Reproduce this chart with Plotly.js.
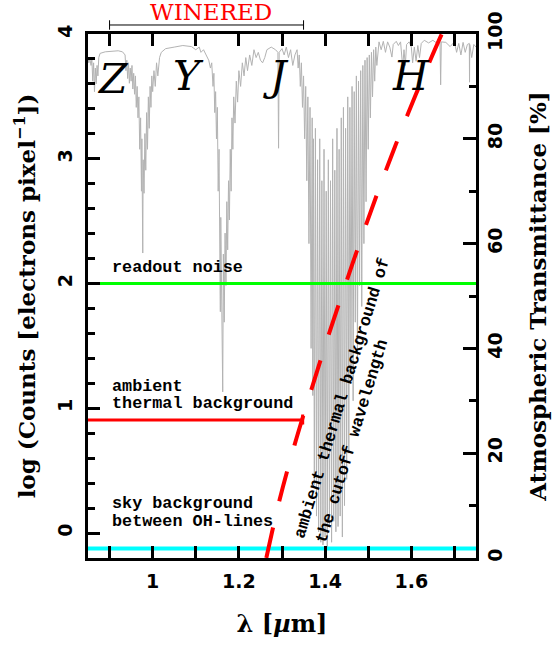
<!DOCTYPE html>
<html><head><meta charset="utf-8">
<script src="https://cdn.plot.ly/plotly-3.0.1.min.js"></script>
<style>html,body{margin:0;padding:0;background:#fff}#chart{width:555px;height:648px}</style>
</head><body><div id="chart"></div>
<script>
// Atmospheric transmittance [%] vs wavelength [um]
const specZ = [[0.850,95.4],[0.852,94.5],[0.854,95.5],[0.857,94.0],[0.859,95.2],[0.861,91.0],[0.863,94.5],[0.865,89.0],[0.867,93.5],[0.869,90.5],[0.871,94.0],[0.873,92.0],[0.875,95.5],[0.878,96.3],[0.890,96.6],[0.905,96.7],[0.920,96.8],[0.930,96.6],[0.936,96.0],[0.938,93.0],[0.940,95.0],[0.942,91.5],[0.944,94.5],[0.946,90.6],[0.948,93.5],[0.950,91.0],[0.952,94.0],[0.954,89.5],[0.956,92.5],[0.958,88.5],[0.960,92.0],[0.962,86.0],[0.964,90.0],[0.966,84.0],[0.968,88.0],[0.970,78.0],[0.972,84.0],[0.974,70.0],[0.975,80.0],[0.977,58.2],[0.978,76.0],[0.980,69.6],[0.982,81.0],[0.984,74.0],[0.986,85.0],[0.988,78.0],[0.990,88.0],[0.992,82.0],[0.994,90.0],[0.996,86.0],[0.998,92.0],[1.000,89.0],[1.003,93.0],[1.006,90.0],[1.009,94.5],[1.012,92.0],[1.016,95.5],[1.020,96.5],[1.030,97.2]];
const specY = [[1.050,97.5],[1.070,97.8],[1.090,97.6],[1.100,97.0],[1.108,97.5],[1.112,96.5],[1.118,97.0],[1.124,96.0],[1.130,95.0],[1.134,93.5],[1.137,94.5],[1.140,90.0],[1.142,92.5],[1.144,85.0],[1.146,89.0],[1.148,80.0],[1.150,86.0],[1.152,70.0],[1.154,78.0],[1.156,55.0],[1.157,47.0],[1.158,65.0],[1.160,50.0],[1.1625,31.7],[1.164,58.0],[1.166,45.0],[1.168,62.0],[1.170,52.0],[1.172,68.0],[1.174,58.8],[1.176,72.0],[1.178,64.5],[1.180,78.0],[1.182,70.0],[1.184,84.0],[1.186,78.0],[1.188,88.0],[1.191,83.0],[1.194,91.0],[1.197,87.0],[1.200,93.0],[1.204,90.0],[1.208,94.5],[1.212,92.0],[1.216,95.5],[1.220,93.0],[1.225,96.0],[1.230,94.0],[1.235,97.0],[1.240,95.5],[1.245,96.5],[1.250,95.0],[1.255,94.5],[1.260,95.5]];
const specJ = [[1.265,97.0],[1.275,97.5],[1.285,97.0],[1.2905,96.5],[1.292,78.2],[1.2935,96.5],[1.300,97.2],[1.305,96.0],[1.310,97.5],[1.315,95.5],[1.320,97.0],[1.325,94.0],[1.330,96.0]];
const specWater = [[1.3350,97.0],[1.3375,93.5],[1.3400,96.0],[1.3425,90.0],[1.3450,94.5],[1.3475,86.0],[1.3500,92.0],[1.3525,80.0],[1.3550,90.0],[1.3575,72.0],[1.3600,88.0],[1.3625,60.0],[1.3650,86.0],[1.3675,40.0],[1.3700,84.0],[1.3715,31.0],[1.3730,80.0],[1.3750,14.0],[1.3775,82.0],[1.3800,8.0],[1.3825,76.0],[1.3850,5.0],[1.3875,80.0],[1.3900,3.0],[1.3925,72.0],[1.3950,2.5],[1.3975,78.0],[1.4000,4.0],[1.4025,70.0],[1.4050,2.0],[1.4075,76.0],[1.4100,6.0],[1.4125,72.0],[1.4150,3.0],[1.4175,80.0],[1.4200,7.0],[1.4225,74.0],[1.4250,5.0],[1.4275,82.0],[1.4300,6.0],[1.4325,78.0],[1.4350,8.0],[1.4375,84.0],[1.4400,4.0],[1.4425,86.0],[1.4450,10.0],[1.4475,82.0],[1.4500,15.0],[1.4525,88.0],[1.4550,20.0],[1.4575,86.0],[1.4600,35.0],[1.4625,90.0],[1.4650,30.0],[1.4675,89.0],[1.4700,45.0],[1.4725,92.0],[1.4750,38.0],[1.4775,91.0],[1.4800,52.0],[1.4825,93.0],[1.4850,48.0],[1.4875,94.0],[1.4900,60.0],[1.4925,95.0],[1.4950,68.0],[1.4975,95.5],[1.5000,78.0],[1.5025,96.0],[1.5050,84.0],[1.5075,96.5],[1.5100,88.0],[1.5125,97.0],[1.5150,91.0],[1.5175,97.5],[1.5200,94.0]];
const specH = [[1.525,98.5],[1.530,97.0],[1.535,98.6],[1.540,96.5],[1.545,98.5],[1.550,97.5],[1.555,95.6],[1.558,98.0],[1.565,98.6],[1.570,97.8],[1.575,98.5],[1.580,93.7],[1.583,97.0],[1.586,94.0],[1.589,98.0],[1.595,98.5],[1.600,97.5],[1.603,94.5],[1.607,97.5],[1.611,94.8],[1.615,97.8],[1.619,95.5],[1.623,98.2],[1.630,98.8],[1.640,98.3],[1.650,98.8],[1.660,98.2],[1.6665,98.5],[1.668,90.3],[1.6695,98.5],[1.680,98.4],[1.690,97.6],[1.700,98.5],[1.705,96.5],[1.710,98.2],[1.715,96.0],[1.720,98.4],[1.725,96.5],[1.730,98.0],[1.7345,98.2],[1.735,90.8],[1.7355,98.0],[1.740,95.5],[1.745,98.0],[1.750,97.5]];

// log counts levels
const cutoffWl  = [1.2636, 1.2943, 1.329, 1.369, 1.4083, 1.4509, 1.4948, 1.5424, 1.5933, 1.6451, 1.6705];
const cutoffLog = [-0.2,   0.265,  0.705, 1.16,  1.59,   2.03,   2.47,   2.92,   3.37,   3.80,   4.0];
const readoutWl  = [0.85, 1.75];
const readoutLog = [2.0, 2.0];
const thermalWl  = [0.85, 1.348, 1.348, 1.348];
const thermalLog = [0.906, 0.906, 0.95, 0.87];
const skyWl  = [0.85, 1.75];
const skyLog = [-0.123, -0.123];
const wineredRange = [0.90, 1.35];
const bandNames = ['Z', 'Y', 'J', 'H'];
const bandWl = [0.908, 1.082, 1.287, 1.600];

const spec = specZ.concat(specY, specJ, specWater, specH);
const specWl = spec.map(p => p[0]);
const specT = spec.map(p => p[1]);

const traces = [
  {x: specWl, y: specT, xaxis: 'x', yaxis: 'y', mode: 'lines', line: {color: '#b3b3b3', width: 1}, hoverinfo: 'skip'},
  {x: skyWl, y: skyLog, yaxis: 'y2', mode: 'lines', line: {color: '#00ffff', width: 4}},
  {x: thermalWl, y: thermalLog, yaxis: 'y2', mode: 'lines', line: {color: '#ff0000', width: 3}},
  {x: readoutWl, y: readoutLog, yaxis: 'y2', mode: 'lines', line: {color: '#00ff00', width: 3}},
  {x: cutoffWl, y: cutoffLog, yaxis: 'y2', mode: 'lines', line: {color: '#ff0000', width: 4, dash: '31px,27px', shape: 'spline'}}
];

const tickFont = {family: 'DejaVu Sans, Liberation Sans, sans-serif', size: 19, color: '#000', weight: 'bold'};
const titleFont = {family: 'DejaVu Serif, serif', size: 23, color: '#000', weight: 'bold'};
const annFont = {family: 'Liberation Mono, Courier New, monospace', size: 16.8, color: '#000', weight: 'bold'};
const bandFont = {family: 'DejaVu Serif, serif', size: 41, color: '#000', style: 'italic'};

const annotations = [
  {xref: 'x', yref: 'paper', x: 1.136, y: 1.042, text: 'WINERED', showarrow: false,
   font: {family: 'DejaVu Serif, serif', size: 23, color: '#ff0000'}, xanchor: 'center', yanchor: 'middle'},
  {xref: 'x', yref: 'y2', x: 0.901, y: 2.13, text: 'readout noise', showarrow: false, font: annFont, xanchor: 'left', yanchor: 'middle'},
  {xref: 'x', yref: 'y2', x: 0.901, y: 1.178, text: 'ambient', showarrow: false, font: annFont, xanchor: 'left', yanchor: 'middle'},
  {xref: 'x', yref: 'y2', x: 0.901, y: 1.038, text: 'thermal background', showarrow: false, font: annFont, xanchor: 'left', yanchor: 'middle'},
  {xref: 'x', yref: 'y2', x: 0.901, y: 0.236, text: 'sky background', showarrow: false, font: annFont, xanchor: 'left', yanchor: 'middle'},
  {xref: 'x', yref: 'y2', x: 0.901, y: 0.092, text: 'between OH-lines', showarrow: false, font: annFont, xanchor: 'left', yanchor: 'middle'},
  {xref: 'x', yref: 'y2', x: 1.4389, y: 1.08, text: 'ambient thermal background of', showarrow: false, font: annFont, textangle: -73, xanchor: 'center', yanchor: 'middle'},
  {xref: 'x', yref: 'y2', x: 1.4631, y: 0.732, text: 'the cutoff wavelength', showarrow: false, font: annFont, textangle: -73, xanchor: 'center', yanchor: 'middle'}
];
const bandY = [3.64, 3.66, 3.66, 3.66];
bandNames.forEach((n, i) => annotations.push({xref: 'x', yref: 'y2', x: bandWl[i], y: bandY[i], text: n, showarrow: false, font: bandFont, xanchor: 'center', yanchor: 'middle'}));

const bracketY = 1.0172;
const shapes = [
  {type: 'line', xref: 'x', yref: 'paper', x0: wineredRange[0], x1: wineredRange[1], y0: bracketY, y1: bracketY, line: {color: '#000', width: 1}},
  {type: 'line', xref: 'x', yref: 'paper', x0: wineredRange[0], x1: wineredRange[0], y0: bracketY - 0.009, y1: bracketY + 0.009, line: {color: '#000', width: 1}},
  {type: 'line', xref: 'x', yref: 'paper', x0: wineredRange[1], x1: wineredRange[1], y0: bracketY - 0.009, y1: bracketY + 0.009, line: {color: '#000', width: 1}}
];

const layout = {
  width: 555, height: 648,
  margin: {l: 88, r: 79, t: 34, b: 90, pad: 0},
  paper_bgcolor: '#fff', plot_bgcolor: '#fff',
  showlegend: false,
  xaxis: {
    range: [0.85, 1.75], dtick: 0.2, tick0: 0, showgrid: false, zeroline: false,
    showline: true, linecolor: '#000', linewidth: 3, mirror: 'allticks', layer: 'above traces',
    ticks: 'inside', ticklen: 12, tickwidth: 3, tickcolor: '#000',
    minor: {dtick: 0.1, ticks: 'inside', ticklen: 7, tickwidth: 3, tickcolor: '#000', showgrid: false},
    tickfont: tickFont, ticklabelstandoff: 4,
    title: {text: 'λ [<i>µ</i>m]', font: {family: 'DejaVu Serif, serif', size: 24, color: '#000', weight: 'bold'}, standoff: 25}
  },
  yaxis: {
    range: [0, 100], side: 'right', dtick: 20, showgrid: false, zeroline: false,
    showline: true, linecolor: '#000', linewidth: 3, layer: 'above traces',
    ticks: 'inside', ticklen: 13, tickwidth: 3, tickcolor: '#000',
    minor: {dtick: 10, ticks: 'inside', ticklen: 7, tickwidth: 3, tickcolor: '#000', showgrid: false},
    tickfont: tickFont, tickangle: -90,
    title: {text: 'Atmospheric Transmittance [%]', font: titleFont, standoff: 26}
  },
  yaxis2: {
    range: [-0.2, 4], side: 'left', overlaying: 'y', anchor: 'x', dtick: 1, tick0: 0, showgrid: false, zeroline: false,
    showline: true, linecolor: '#000', linewidth: 3, layer: 'above traces',
    ticks: 'inside', ticklen: 12, tickwidth: 3, tickcolor: '#000',
    minor: {dtick: 0.2, tick0: 0, ticks: 'inside', ticklen: 7, tickwidth: 3, tickcolor: '#000', showgrid: false},
    tickfont: tickFont, tickangle: -90, ticklabelstandoff: 5,
    title: {text: 'log (Counts [electrons pixel<sup>−1</sup>])', font: titleFont, standoff: 13}
  },
  annotations: annotations,
  shapes: shapes
};

Plotly.newPlot('chart', traces, layout, {displayModeBar: false, staticPlot: true});
</script>
</body></html>
